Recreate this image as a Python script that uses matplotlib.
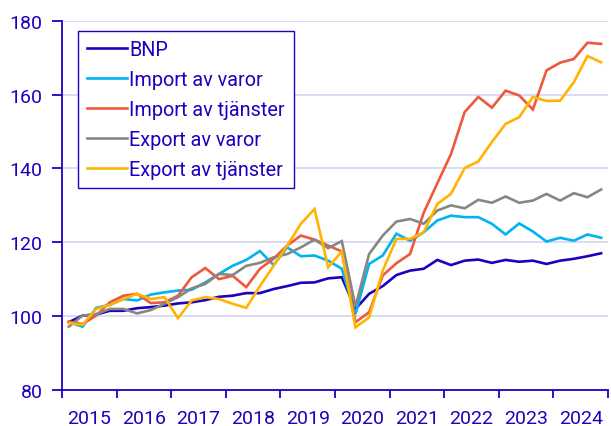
import matplotlib.pyplot as plt
import numpy as np

plt.rcParams.update({
    "font.family": ["Roboto", "DejaVu Sans"],
    "font.size": 14,
    "text.color": "#1e00be",
    "xtick.color": "#1e00be",
    "ytick.color": "#1e00be",
})

# Kvartal 2015K1 - 2024K4
years = list(range(2015, 2025))

bnp = [98.3, 100.1, 100.4, 101.4, 101.4, 102.1, 102.4, 102.8, 103.4, 103.7,
       104.3, 105.2, 105.5, 106.2, 106.2, 107.3, 108.1, 109.0, 109.1, 110.2,
       110.5, 101.9, 106.0, 108.1, 111.1, 112.3, 112.8, 115.2, 113.8, 115.0,
       115.3, 114.4, 115.2, 114.7, 115.0, 114.1, 115.0, 115.5, 116.2, 117.0]

import_varor = [98.3, 97.1, 102.2, 103.0, 104.6, 104.2, 105.8, 106.4, 106.9, 107.1,
                109.1, 111.4, 113.6, 115.2, 117.6, 113.8, 118.6, 116.2, 116.4, 115.0,
                112.8, 100.5, 114.1, 116.4, 122.3, 120.4, 122.7, 125.9, 127.2, 126.8,
                126.8, 125.0, 122.1, 125.1, 122.9, 120.2, 121.2, 120.4, 122.1, 121.2]

import_tjanster = [98.5, 97.8, 100.1, 103.7, 105.5, 106.0, 103.5, 103.7, 105.5, 110.5,
                   113.0, 110.0, 110.9, 107.8, 112.8, 115.5, 119.1, 121.8, 120.7, 119.1,
                   117.5, 98.3, 101.0, 111.0, 114.3, 116.8, 128.0, 136.0, 143.9, 155.3,
                   159.4, 156.5, 161.1, 159.8, 156.0, 166.6, 168.7, 169.7, 174.1, 173.8]

export_varor = [97.1, 100.1, 100.5, 101.9, 101.9, 100.7, 101.6, 103.3, 105.1, 107.5,
                108.7, 111.4, 111.1, 113.6, 114.4, 115.9, 116.8, 118.6, 120.7, 118.4,
                120.3, 102.5, 116.8, 121.8, 125.6, 126.3, 125.0, 128.6, 130.0, 129.2,
                131.5, 130.7, 132.4, 130.7, 131.3, 133.1, 131.3, 133.3, 132.2, 134.3]

export_tjanster = [98.1, 97.6, 101.9, 103.0, 104.6, 106.0, 104.6, 105.1, 99.4, 104.2,
                   105.1, 104.6, 103.3, 102.2, 108.1, 113.6, 119.1, 125.0, 129.0, 113.2,
                   117.5, 96.9, 99.6, 112.3, 120.9, 120.9, 122.7, 130.4, 133.1, 140.1,
                   141.9, 147.2, 152.1, 153.9, 159.4, 158.3, 158.4, 163.4, 170.5, 168.8]

series = [
    ("BNP", bnp, "#1e00be"),
    ("Import av varor", import_varor, "#00b4f0"),
    ("Import av tjänster", import_tjanster, "#f0583c"),
    ("Export av varor", export_varor, "#878782"),
    ("Export av tjänster", export_tjanster, "#ffb400"),
]

x = np.arange(len(bnp))

fig = plt.figure(figsize=(6.11, 4.27), dpi=100)
ax = fig.add_axes([0.1015, 0.085, 0.8935, 0.8635])

for name, vals, col in series:
    ax.plot(x, vals, color=col, lw=1.9, label=name, solid_joinstyle="miter")

ax.set_xlim(-0.5, len(bnp) - 0.5)
ax.set_ylim(80, 180)
ax.set_yticks(np.arange(80, 181, 20))
ax.set_xticks(np.arange(-0.5, len(bnp), 4))
ax.set_xticklabels([])
ax.set_xticks(np.arange(1.5, len(bnp), 4), minor=True)
ax.set_xticklabels([str(y) for y in years], minor=True)

ax.tick_params(axis="x", which="major", length=6, width=1.3, color="#1e00be")
ax.tick_params(axis="x", which="minor", length=0, pad=14)
ax.tick_params(axis="y", length=7, width=1.3, color="#1e00be", pad=7)

ax.grid(axis="y", color="#d4d4f2", lw=1.2)
ax.set_axisbelow(True)
for s in ["top", "right"]:
    ax.spines[s].set_visible(False)
for s in ["left", "bottom"]:
    ax.spines[s].set_color("#1e00be")
    ax.spines[s].set_linewidth(1.3)

leg = ax.legend(loc="upper left", bbox_to_anchor=(0.029, 0.973), borderaxespad=0,
                fancybox=False, frameon=True, edgecolor="#1e00be", framealpha=1,
                handlelength=2.0, handletextpad=0.15, labelspacing=0.55,
                borderpad=0.45, fontsize=14.3)
leg.get_frame().set_linewidth(1.0)
for t in leg.get_texts():
    t.set_color("#1e00be")

plt.savefig("out.png", dpi=100)
